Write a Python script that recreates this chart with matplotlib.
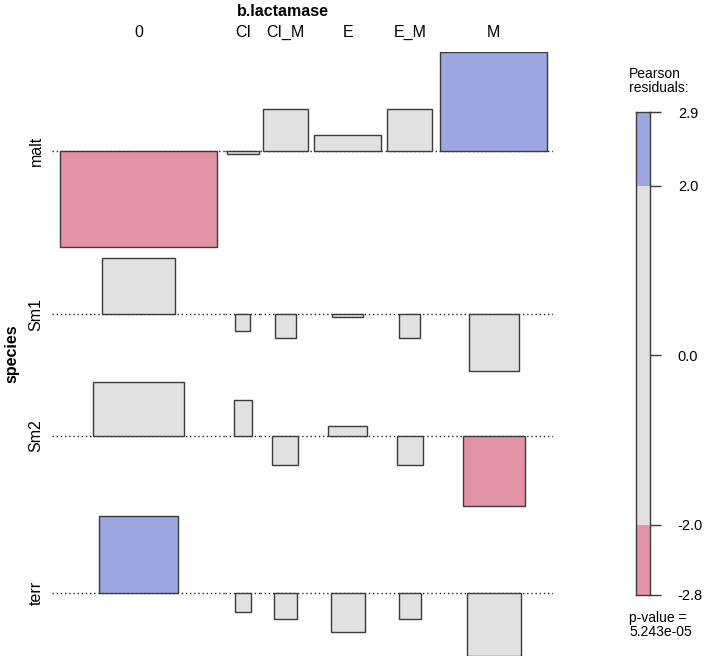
import matplotlib

matplotlib.use("Agg")
import matplotlib.pyplot as plt
from matplotlib.patches import Rectangle
import numpy as np

plt.rcParams["font.family"] = ["Liberation Sans", "DejaVu Sans"]

# --- data -------------------------------------------------------------------
species = ["malt", "Sm1", "Sm2", "terr"]
lactamase = ["0", "CI", "CI_M", "E", "E_M", "M"]
row_totals = [100, 22, 33, 25]
col_totals = [97, 4, 8, 18, 8, 45]
residuals = [
    [-2.83, -0.10, 1.20, 0.45, 1.20, 2.87],
    [1.66, -0.49, -0.70, -0.07, -0.70, -1.66],
    [1.58, 1.04, -0.86, 0.27, -0.86, -2.06],
    [2.25, -0.54, -0.76, -1.14, -0.76, -1.82],
]
legend_breaks = [-2.0, 0.0, 2.0]
p_value = "5.243e-05"

C_POS = "#9DA8E2"
C_NEG = "#E294A6"
C_MID = "#E1E1E1"
EDGE = "#3a3a3a"

W, H = 711, 661


def shade(r):
    if r > 2:
        return C_POS
    if r < -2:
        return C_NEG
    return C_MID


def fig_rect(x0, y0, x1, y1):
    # pixel box (top-left origin) -> figure fraction
    return [x0 / W, 1 - y1 / H, (x1 - x0) / W, (y1 - y0) / H]


res = np.array(residuals)
n = sum(row_totals)
expected = np.outer(row_totals, col_totals) / n
widths = np.sqrt(expected)

xpad = 1.105
col_w = widths.max(axis=0) * xpad
col_left = np.concatenate([[0], np.cumsum(col_w)[:-1]])
col_mid = col_left + col_w / 2

gap = 0.3
mpos = np.maximum(res.max(axis=1), 0)
mneg = np.minimum(res.min(axis=1), 0)
base = []
y = 0.0
for i in range(len(species)):
    b = y - mpos[i]
    base.append(b)
    y = b + mneg[i] - gap
total_h = -(y + gap)

fig = plt.figure(figsize=(W / 100, H / 100), dpi=100)
ax = fig.add_axes(fig_rect(51.7, 52.3, 553, 655.7))
ax.set_xlim(0, col_w.sum())
ax.set_ylim(-total_h, 0)
ax.axis("off")

for i in range(len(species)):
    for j in range(len(lactamase)):
        ax.plot([col_left[j], col_left[j] + col_w[j]], [base[i], base[i]],
                color="#222", lw=1.0, ls=(0, (1, 2)), zorder=1)
        w = widths[i, j]
        ax.add_patch(Rectangle((col_mid[j] - w / 2, base[i]), w, res[i, j],
                               facecolor=shade(res[i, j]), edgecolor=EDGE,
                               lw=1.0, zorder=2))

# labels around the panel
for j, lab in enumerate(lactamase):
    xf = (51.7 + (553 - 51.7) * col_mid[j] / col_w.sum()) / W
    fig.text(xf, 1 - 32.5 / H, lab, ha="center", va="center", fontsize=11.5)
fig.text(282.5 / W, 1 - 11 / H, "b.lactamase", ha="center",
         va="center", fontsize=11.5, fontweight="bold")
for i, lab in enumerate(species):
    yf = 1 - (52.3 + (655.7 - 52.3) * (-base[i]) / total_h) / H
    fig.text(36 / W, yf, lab, ha="center", va="center", rotation=90,
             fontsize=11.5)
fig.text(12 / W, 1 - 354 / H, "species", ha="center", va="center",
         rotation=90, fontsize=11.5, fontweight="bold")

# shading legend
rmin, rmax = res.min(), res.max()
lax = fig.add_axes(fig_rect(635.7, 112.3, 650, 595))
lax.set_xlim(0, 1)
lax.set_ylim(rmin, rmax)
lax.axhspan(rmin, legend_breaks[0], color=C_NEG, lw=0)
lax.axhspan(legend_breaks[0], legend_breaks[-1], color=C_MID, lw=0)
lax.axhspan(legend_breaks[-1], rmax, color=C_POS, lw=0)
for s in lax.spines.values():
    s.set_edgecolor(EDGE)
    s.set_linewidth(1.0)
lax.set_xticks([])
ticks = [rmin] + legend_breaks + [rmax]
lax.set_yticks(ticks)
lax.set_yticklabels([f"{t:.1f}" for t in ticks])
lax.yaxis.tick_right()
lax.tick_params(axis="y", length=8, width=1.0, color=EDGE, pad=12,
                labelsize=10.5)
fig.text(629 / W, 1 - 81 / H, "Pearson\nresiduals:", ha="left", va="center",
         fontsize=10, linespacing=0.95)
fig.text(629 / W, 1 - 625 / H, "p-value =\n" + p_value, ha="left",
         va="center", fontsize=10, linespacing=0.95)

fig.savefig("out.png", dpi=100, facecolor="white")
